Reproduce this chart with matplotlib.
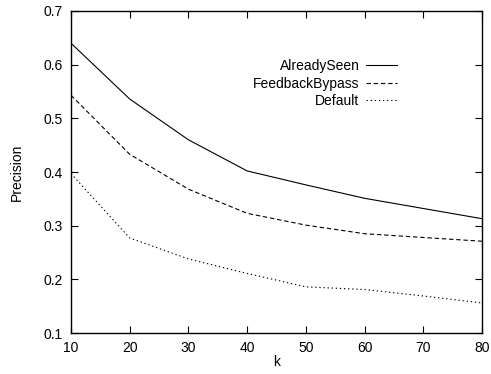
import numpy as np
from matplotlib import pyplot as plt

plt.rcParams['font.family'] = ['Liberation Sans', 'DejaVu Sans']
plt.rcParams['font.size'] = 10

# data
k = [10, 20, 30, 40, 50, 60, 70, 80]
already_seen = [0.640, 0.536, 0.460, 0.402, 0.376, 0.351, 0.332, 0.313]
feedback_bypass = [0.543, 0.433, 0.368, 0.323, 0.301, 0.285, 0.278, 0.271]
default = [0.397, 0.277, 0.238, 0.211, 0.186, 0.181, 0.169, 0.156]

fig = plt.figure(figsize=(4.91, 3.74), dpi=100)
ax = fig.add_axes([0.1446, 0.1096, 0.8371, 0.861])

lw = 0.8
ax.plot(k, already_seen, color='black', lw=lw, label='AlreadySeen')
ax.plot(k, feedback_bypass, color='black', lw=lw, dashes=(4, 2.5), label='FeedbackBypass')
ax.plot(k, default, color='black', lw=lw, dashes=(1.2, 2.5), label='Default')

ax.set_xlim(10, 80)
ax.set_ylim(0.1, 0.7)
ax.set_xticks(np.arange(10, 81, 10))
ax.set_yticks(np.arange(0.1, 0.71, 0.1))
ax.set_yticklabels(['0.1', '0.2', '0.3', '0.4', '0.5', '0.6', '0.7'])
ax.tick_params(direction='in', length=5, width=0.8, top=True, right=True, pad=6)
for s in ax.spines.values():
    s.set_linewidth(1.0)

ax.set_xlabel('k', labelpad=0)
ax.set_ylabel('Precision', labelpad=14)

leg = ax.legend(loc='upper right', bbox_to_anchor=(0.793, 0.85), frameon=False,
                markerfirst=False, handlelength=2.2, handletextpad=0.5,
                labelspacing=0.25, borderpad=0, borderaxespad=0)

fig.savefig('out.png', dpi=100)
